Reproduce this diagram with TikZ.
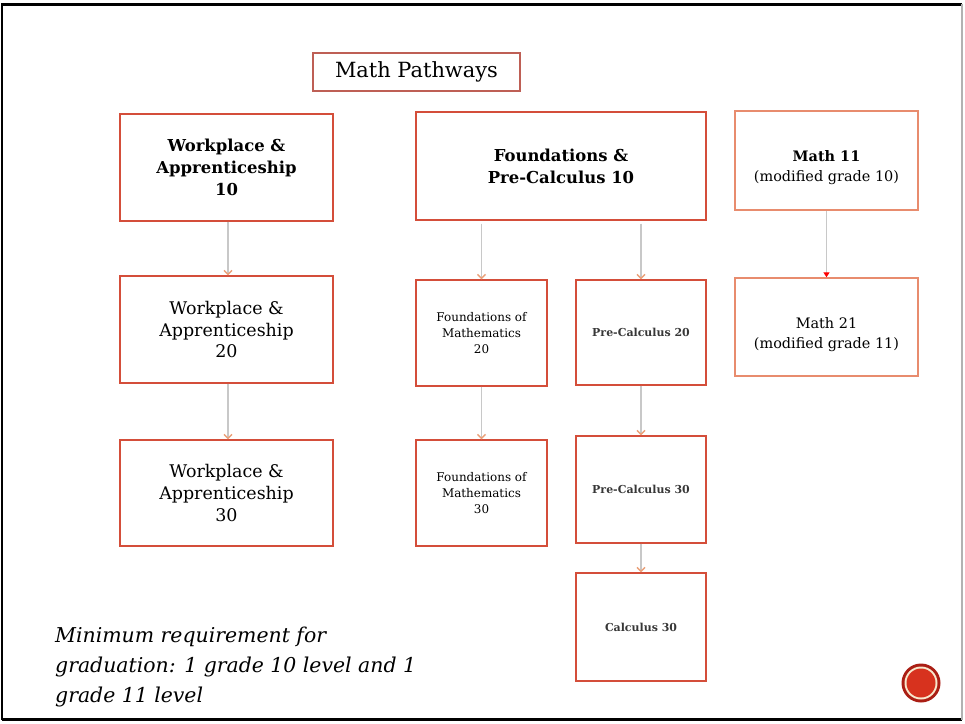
\documentclass[tikz,border=0pt]{standalone}
\usepackage{fontspec}
\setmainfont{DejaVu Serif}
\usetikzlibrary{arrows.meta}
\definecolor{boxred}{RGB}{212,78,58}
\definecolor{boxorange}{RGB}{232,140,110}
\definecolor{titlered}{RGB}{190,95,85}
\definecolor{linegray}{RGB}{200,200,200}
\definecolor{tiporange}{RGB}{235,160,120}
\definecolor{txtgray}{RGB}{55,55,55}
\definecolor{ringdark}{RGB}{170,30,20}
\definecolor{ringcream}{RGB}{248,232,205}
\definecolor{dotred}{RGB}{215,50,30}
\tikzset{
  box/.style={draw=boxred, line width=1.4bp, fill=white, align=center, inner sep=2bp},
  boxo/.style={draw=boxorange, line width=1.4bp, fill=white, align=center, inner sep=2bp},
  flow/.style={draw=linegray, line width=1.4bp, -{Straight Barb[length=4bp,width=8bp,color=tiporange]}},
  flowr/.style={draw=linegray, line width=1.4bp, -{Triangle[length=5bp,width=6bp,color=red]}},
  bigb/.style={font=\fontsize{16.5}{22}\selectfont\bfseries},
  big/.style={font=\fontsize{17.5}{22}\selectfont},
  mid/.style={font=\fontsize{14.5}{20}\selectfont},
  small/.style={font=\fontsize{12}{16}\selectfont},
  smallb/.style={font=\fontsize{11}{16}\selectfont\bfseries, text=txtgray},
}
\begin{document}
\begin{tikzpicture}[x=1bp,y=-1bp]
\useasboundingbox (0,0) rectangle (965,724);
\fill[white] (0,0) rectangle (965,724);
% frame
\draw[line width=2.5bp, black] (2,720) -- (2,4.5) -- (962,4.5);
\draw[line width=2.5bp, black] (2,719.5) -- (962,719.5);
\draw[line width=2bp, gray!60] (962,4) -- (962,720);

% title
\node[draw=titlered, line width=1.4bp, minimum width=207bp, minimum height=38bp, font=\fontsize{21}{22}\selectfont] (title) at (416.5,72) {\raisebox{-2bp}{Math Pathways}};

% Workplace column
\node[box, bigb, minimum width=213bp, minimum height=107bp] (wa10) at (226.5,167.5) {Workplace \&\\Apprenticeship\\10};
\node[box, big, minimum width=213bp, minimum height=107bp] (wa20) at (226.5,329.5) {Workplace \&\\Apprenticeship\\20};
\node[box, big, minimum width=213bp, minimum height=106bp] (wa30) at (226.5,493) {Workplace \&\\Apprenticeship\\30};

% Foundations / Pre-Calc
\node[box, bigb, minimum width=290bp, minimum height=108bp] (fpc10) at (561,166) {Foundations \&\\Pre-Calculus 10};
\node[box, small, minimum width=131bp, minimum height=106bp] (fm20) at (481.5,333) {Foundations of\\Mathematics\\20};
\node[box, smallb, minimum width=130bp, minimum height=105bp] (pc20) at (641,332.5) {Pre-Calculus 20};
\node[box, small, minimum width=131bp, minimum height=106bp] (fm30) at (481.5,493) {Foundations of\\Mathematics\\30};
\node[box, smallb, minimum width=130bp, minimum height=107bp] (pc30) at (641,489.5) {Pre-Calculus 30};
\node[box, smallb, minimum width=130bp, minimum height=108bp] (calc30) at (641,627) {Calculus 30};

% Math 11 / 21
\node[boxo, minimum width=183bp, minimum height=99bp,
  label={[mid, align=center, yshift=-7bp]center:\textbf{Math 11}\\(modified grade 10)}] (m11) at (826.5,160.5) {};
\node[boxo, minimum width=183bp, minimum height=98bp,
  label={[mid, align=center, yshift=-8bp]center:Math 21\\(modified grade 11)}] (m21) at (826.5,327) {};

% connectors
\draw[flow] ([xshift=1.5bp]wa10.south) -- ([xshift=1.5bp]wa20.north);
\draw[flow] ([xshift=1.5bp]wa20.south) -- ([xshift=1.5bp]wa30.north);
\draw[flow, shorten <=3bp] (fm20.north |- fpc10.south) -- (fm20.north);
\draw[flow, shorten <=3bp] (pc20.north |- fpc10.south) -- (pc20.north);
\draw[flow] (fm20.south) -- (fm30.north);
\draw[flow] (pc20.south) -- (pc30.north);
\draw[flow] (pc30.south) -- (calc30.north);
\draw[flowr] (m11.south) -- (m21.north);

% note
\node[anchor=north west, align=left, inner sep=0, font=\fontsize{20.5}{30}\selectfont\itshape] (note) at (55,627)
  {Minimum requirement for\\graduation: 1 grade 10 level and 1\\grade 11 level};

% badge
\fill[ringdark] (921,683) circle (19.5bp);
\fill[ringcream] (921,683) circle (16.5bp);
\fill[dotred] (921,683) circle (14.5bp);
\end{tikzpicture}
\end{document}
